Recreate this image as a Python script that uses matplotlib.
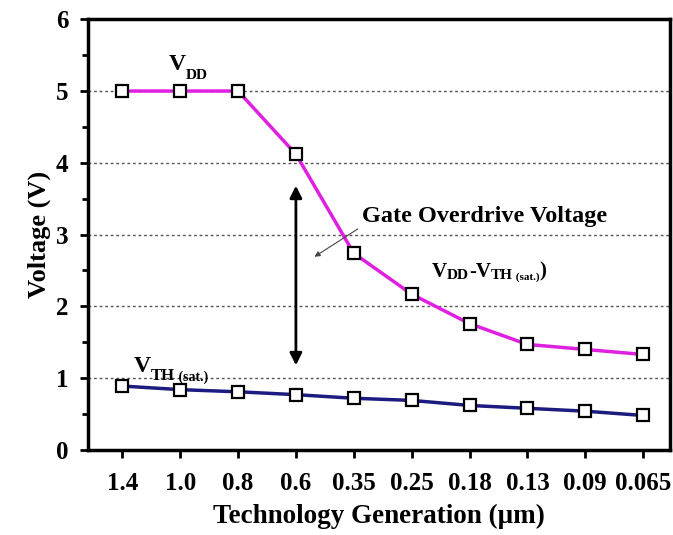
import matplotlib
matplotlib.use('Agg')
import matplotlib.pyplot as plt
from matplotlib.ticker import MultipleLocator
import numpy as np

# data
generations = ['1.4', '1.0', '0.8', '0.6', '0.35', '0.25', '0.18', '0.13', '0.09', '0.065']
vdd = [5.0, 5.0, 5.0, 4.12, 2.74, 2.17, 1.76, 1.47, 1.40, 1.33]
vth_sat = [0.89, 0.84, 0.81, 0.77, 0.72, 0.69, 0.62, 0.58, 0.54, 0.48]

plt.rcParams['font.family'] = ['Liberation Serif', 'DejaVu Serif']
plt.rcParams['font.weight'] = 'bold'

SERIF = dict(fontweight='bold', family=['Liberation Serif', 'DejaVu Serif'])


def chain_text(ax, x, y, parts):
    # write text pieces of different sizes one after another
    s, fs, dy = parts[0]
    t = ax.text(x, y, s, fontsize=fs, va='baseline', ha='left', **SERIF)
    for s, fs, dy in parts[1:]:
        t = ax.annotate(s, xy=(1, 0), xycoords=t, xytext=(0, dy),
                        textcoords='offset points', fontsize=fs,
                        va='bottom', ha='left', **SERIF)
    return t


fig = plt.figure(figsize=(6.73, 5.35), dpi=100)
ax = fig.add_axes([0.131, 0.159, 0.865, 0.805])

x = np.arange(len(generations))

for yv in range(1, 6):
    ax.axhline(yv, color='#555555', lw=1.0, ls=(0, (2, 2)), zorder=1)

ax.plot(x, vdd, color='#e020e0', lw=2.5, marker='s', ms=9,
        mfc='white', mec='black', mew=1.6, zorder=3)
ax.plot(x, vth_sat, color='#1c1c80', lw=2.5, marker='s', ms=9,
        mfc='white', mec='black', mew=1.6, zorder=3)

ax.set_xlim(-0.59, 9.47)
ax.set_ylim(0, 6)
ax.set_xticks(x)
ax.set_xticklabels(generations)
ax.yaxis.set_major_locator(MultipleLocator(1))
ax.yaxis.set_minor_locator(MultipleLocator(0.5))

ax.tick_params(axis='both', which='major', direction='out', length=6, width=2,
               labelsize=18, pad=10)
ax.tick_params(axis='y', which='minor', direction='out', length=4, width=2)
ax.tick_params(axis='y', which='major', pad=8)
for sp in ax.spines.values():
    sp.set_linewidth(2.5)

ax.set_xlabel('Technology Generation (\u03bcm)', fontsize=19.5, labelpad=6, **SERIF)
ax.set_ylabel('Voltage (V)', fontsize=19, labelpad=4, **SERIF)

# annotations
chain_text(ax, 0.8, 5.29, [('V', 17, 0), ('DD', 11, -5)])
chain_text(ax, 0.2, 1.09, [('V', 17, 0), ('TH', 12, -5), (' (sat.)', 10, 0)])
chain_text(ax, 5.35, 2.41, [('V', 15, 0), ('DD', 11, 0), ('-V', 15, 0),
                            ('TH', 11, 0), (' (sat.)', 8, 0), (')', 15, 0)])

ax.text(4.15, 3.25, 'Gate Overdrive Voltage', fontsize=17.5, va='center', ha='left', **SERIF)
ax.annotate('', xy=(3.28, 2.67), xytext=(4.11, 3.1),
            arrowprops=dict(arrowstyle='-|>', color='#444444', lw=0.8,
                            mutation_scale=8))
ax.annotate('', xy=(3, 3.72), xytext=(3, 1.14),
            arrowprops=dict(arrowstyle='<|-|>', color='black', lw=2,
                            mutation_scale=18), zorder=4)

fig.savefig('out.png', dpi=100)
